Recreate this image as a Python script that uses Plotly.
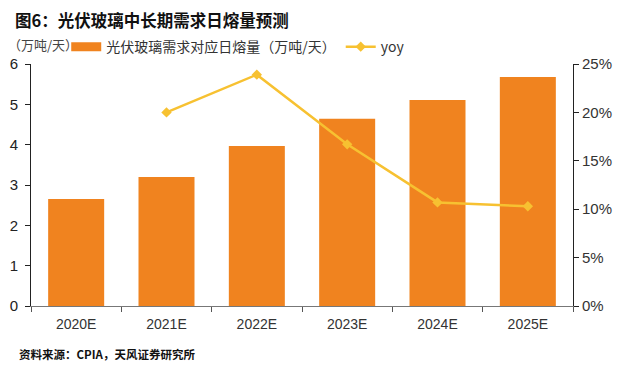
import plotly.graph_objects as go

categories = ["2020E", "2021E", "2022E", "2023E", "2024E", "2025E"]
melt_capacity = [2.65, 3.20, 3.97, 4.64, 5.11, 5.68]
yoy_cats = ["2021E", "2022E", "2023E", "2024E", "2025E"]
yoy_pct = [0.200, 0.239, 0.167, 0.107, 0.103]
bar_name = "光伏玻璃需求对应日熔量（万吨/天）"

CJK = "Noto Sans CJK SC"
LAT = "Liberation Sans, Arial"
BAR_COLOR = "#F0831F"
LINE_COLOR = "#F7C131"

fig = go.Figure()
fig.add_trace(go.Bar(
    x=categories, y=melt_capacity, name=bar_name, showlegend=False,
    marker=dict(color=BAR_COLOR, line=dict(width=0)), width=0.62,
))
# legend-only entry drawn as a wide rectangle
fig.add_trace(go.Scatter(
    x=[None], y=[None], name=bar_name, mode="lines",
    line=dict(color=BAR_COLOR, width=9),
))
fig.add_trace(go.Scatter(
    x=yoy_cats, y=yoy_pct, name="yoy", yaxis="y2", mode="lines+markers",
    line=dict(color=LINE_COLOR, width=2.5),
    marker=dict(symbol="diamond", size=8, color=LINE_COLOR),
))

fig.update_layout(
    width=615, height=357,
    margin=dict(l=23, r=50, t=56, b=59, autoexpand=False),
    paper_bgcolor="white", plot_bgcolor="white",
    font=dict(family=LAT, size=13, color="#222"),
    showlegend=True,
    legend=dict(orientation="h", x=0.065, y=1.07, xanchor="left", yanchor="middle",
                font=dict(family=CJK, size=14, color="#333"), bgcolor="rgba(0,0,0,0)",
                itemwidth=30, tracegroupgap=0),
    xaxis=dict(
        automargin=False,
        showline=True, linecolor="#777", linewidth=1, ticks="outside", tickson="boundaries",
        ticklen=5, tickcolor="#555", tickfont=dict(family=LAT, size=14, color="#333"),
        ticklabelstandoff=5,
        range=[-0.5, 5.5],
    ),
    yaxis=dict(
        automargin=False,
        range=[0, 6], dtick=1, showgrid=False, zeroline=False, showline=True,
        linecolor="#222", linewidth=1, ticks="outside", ticklen=5, tickcolor="#222",
        tickfont=dict(family=LAT, size=15, color="#222"), ticklabelstandoff=4,
    ),
    yaxis2=dict(
        automargin=False,
        overlaying="y", side="right", range=[0, 0.25], dtick=0.05, tickformat=".0%",
        showgrid=False, zeroline=False, showline=True, linecolor="#222", linewidth=1,
        ticks="outside", ticklen=5, tickcolor="#222",
        tickfont=dict(family=LAT, size=15, color="#333"),
    ),
    annotations=[
        dict(text="<b>图6：光伏玻璃中长期需求日熔量预测</b>", xref="paper", yref="paper",
             x=-0.033, y=1.18, xanchor="left", yanchor="middle", showarrow=False,
             font=dict(family=CJK, size=16.5, color="#111")),
        dict(text="（万吨/天）", xref="paper", yref="paper",
             x=-0.047, y=1.079, xanchor="left", yanchor="middle", showarrow=False,
             font=dict(family=CJK, size=13, color="#444")),
        dict(text="<b>资料来源：CPIA，天风证券研究所</b>", xref="paper", yref="paper",
             x=-0.026, y=-0.198, xanchor="left", yanchor="middle", showarrow=False,
             font=dict(family=CJK, size=11.5, color="#111")),
    ],
)

fig.write_html("out.html")
